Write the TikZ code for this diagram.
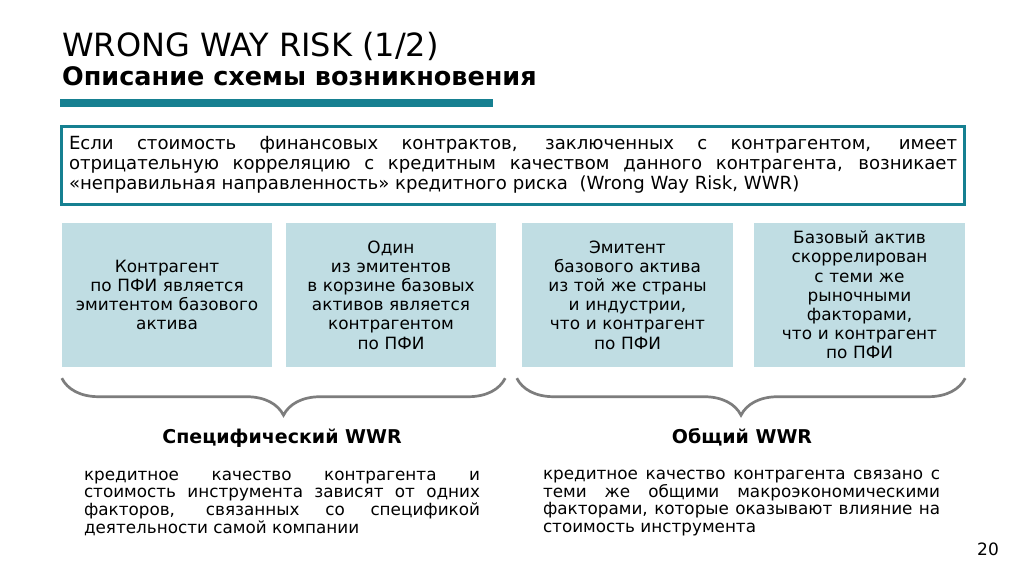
\documentclass[tikz,border=0pt]{standalone}
\usepackage{fontspec}
\setmainfont{DejaVu Sans}
\usetikzlibrary{decorations.pathreplacing}
\definecolor{wwrteal}{RGB}{22,128,145}
\definecolor{wwrpale}{RGB}{192,221,227}
\definecolor{wwrgray}{RGB}{125,125,125}
\tikzset{
  wwrframe/.style={draw=wwrteal, line width=3pt, minimum width=903pt, minimum height=78pt,
    text width=888pt, align=justify, inner sep=0pt, font=\fontsize{18.1}{20}\selectfont},
  wwrcard/.style={fill=wwrpale, minimum width=210pt, minimum height=144pt, text width=208pt,
    align=center, inner sep=0pt, font=\fontsize{16.9}{19.2}\selectfont},
  wwrbrace/.style={draw=wwrgray, line width=2.7pt, decorate, decoration={brace, amplitude=37pt}},
  wwrhead/.style={font=\bfseries\fontsize{19}{22}\selectfont},
  wwrnote/.style={text width=397pt, align=justify, inner sep=0pt, font=\fontsize{16.8}{17.7}\selectfont}
}
\begin{document}
\begin{tikzpicture}[x=1pt,y=-1pt]
			%%%%% START %%%%%
			
			\fill[white] (0,0) rectangle (1024,576);
			
			\node[anchor=base west, inner sep=0pt, font=\fontsize{32}{36}\selectfont] (title) at (62,56) {WRONG WAY RISK (1/2)};
			\node[anchor=base west, inner sep=0pt, font=\bfseries\fontsize{25.5}{28}\selectfont] (subtitle) at (62,85) {Описание схемы возникновения};
			\fill[wwrteal] (60,99) rectangle (493,107);
			
			\node[wwrframe] (intro) at (513,165) {Если стоимость финансовых контрактов, заключенных с контрагентом, имеет\linebreak
			отрицательную корреляцию с кредитным качеством данного контрагента, возникает\linebreak
			«неправильная направленность» кредитного риска\ \ (Wrong Way Risk, WWR)};
			
			\node[wwrcard] (c1) at (167,295) {Контрагент\\ по ПФИ является\\ эмитентом базового\\ актива};
			\node[wwrcard] (c2) at (391,295) {Один\\ из эмитентов\\ в корзине базовых\\ активов является\\ контрагентом\\ по ПФИ};
			\node[wwrcard, minimum width=211pt] (c3) at (627.5,295) {Эмитент\\ базового актива\\ из той же страны\\ и индустрии,\\ что и контрагент\\ по ПФИ};
			\node[wwrcard, minimum width=211pt] (c4) at (859.5,295) {Базовый актив\\ скоррелирован\\ с теми же\\ рыночными\\ факторами,\\ что и контрагент\\ по ПФИ};
			
			\draw[wwrbrace] ([xshift=9pt,yshift=-11pt]c2.south east) -- ([yshift=-11pt]c1.south west);
			\draw[wwrbrace] ([yshift=-11pt]c4.south east) -- ([xshift=-5pt,yshift=-11pt]c3.south west);
			
			\node[wwrhead] (specific) at (282,438) {Специфический WWR};
			\node[wwrhead] (general) at (742,437) {Общий WWR};
			
			\node[wwrnote, text width=396pt] (specnote) at (282,503) {кредитное качество контрагента и\linebreak
			стоимость инструмента зависят от одних\linebreak
			факторов, связанных со спецификой\linebreak
			деятельности самой компании};
			\node[wwrnote] (gennote) at (741.5,503) {кредитное качество контрагента связано с\linebreak
			теми же общими макроэкономическими\linebreak
			факторами, которые оказывают влияние на\linebreak
			стоимость инструмента};
			
			\node[font=\fontsize{17}{20}\selectfont] (pagenum) at (988,549) {20};
			
			%%%%% END %%%%%
\end{tikzpicture}
\end{document}
